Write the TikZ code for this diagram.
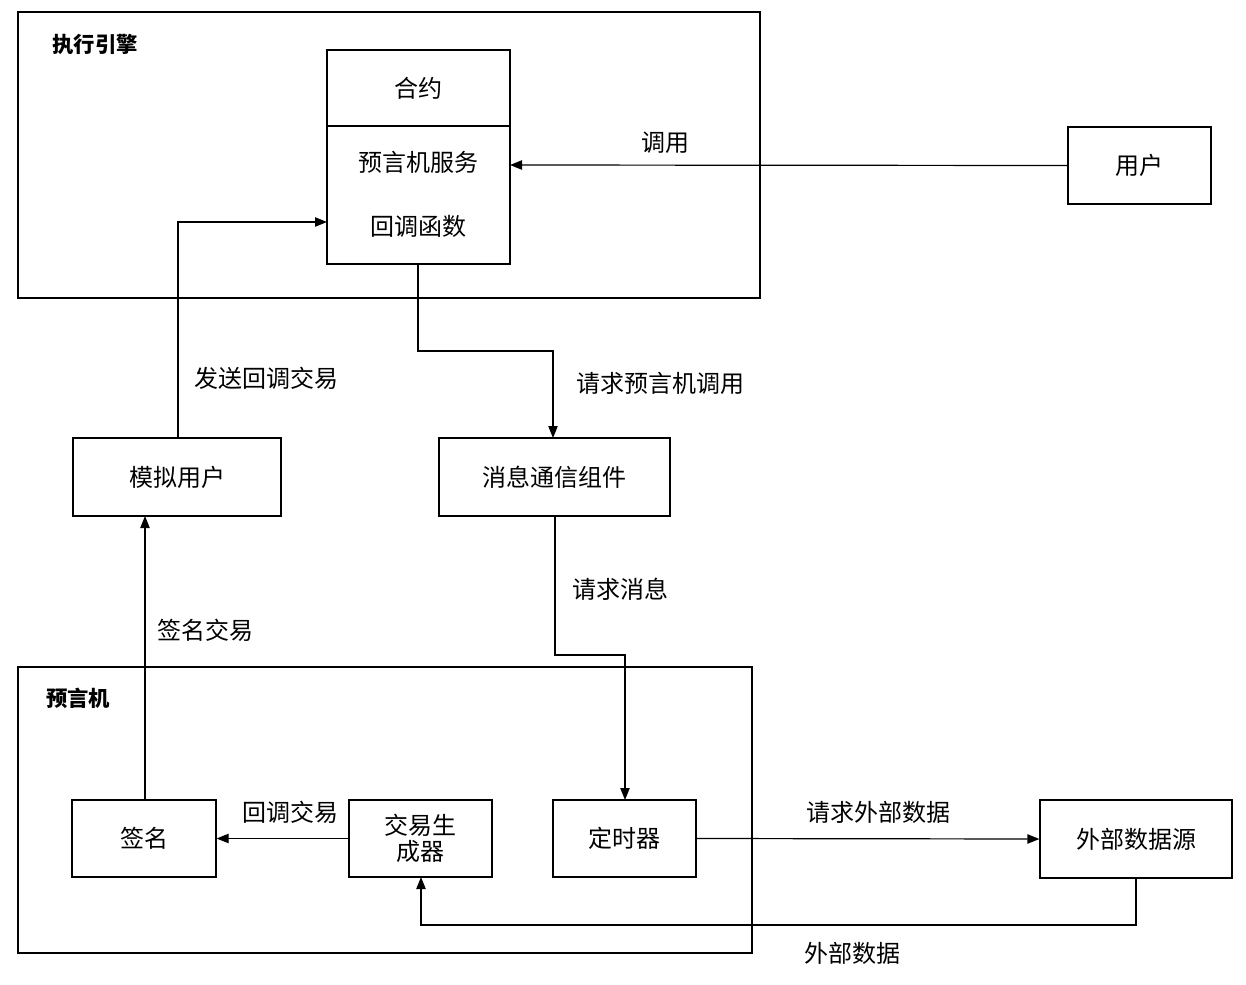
\documentclass[tikz,border=0pt]{standalone}
\usepackage{fontspec}
\setmainfont{Noto Sans CJK SC}
\usetikzlibrary{arrows.meta}
\begin{document}
\begin{tikzpicture}[x=0.75pt,y=-0.75pt,
  box/.style={draw,line width=0.9pt},
  lbl/.style={font=\fontsize{18}{20}\selectfont,inner sep=0pt},
  ttl/.style={font=\fontsize{16}{18}\selectfont\bfseries,inner sep=0pt},
  arr/.style={draw,line width=0.9pt,-{Triangle[length=9pt,width=7pt]}}]
\useasboundingbox (0,0) rectangle (1246,985);
\draw[box] (18,12) rectangle (760,298);
\node[ttl] (t1) at (95,44) {执行引擎};
\draw[box] (18,667) rectangle (752,953);
\node[ttl] (t2) at (78,698) {预言机};
\draw[box] (327,50) rectangle (510,264);
\draw[line width=0.9pt] (327,126) -- (510,126);
\coordinate (cT) at (418,50);
\node[lbl] (he) at (418,88) {合约};
\node[lbl] (svc) at (418,162) {预言机服务};
\node[lbl] (cb) at (418,226) {回调函数};
\coordinate (cBot) at (418,264);
\coordinate (cR) at (510,165);
\coordinate (cL) at (327,222);
\node[box,minimum width=143\pgflinewidth,lbl,draw,minimum width=107.25pt,minimum height=57.75pt,inner sep=0pt] (user) at (1139.5,165.5) {用户};
\node[box,lbl,minimum width=173.25pt,minimum height=58.5pt] (msg) at (554.5,477) {消息通信组件};
\node[box,lbl,minimum width=156pt,minimum height=58.5pt] (sim) at (177,477) {模拟用户};
\node[box,lbl,minimum width=108pt,minimum height=57.75pt] (sig) at (144,838.5) {签名};
\node[box,lbl,minimum width=107.25pt,minimum height=57.75pt,align=center] (gen) at (420.5,838.5) {交易生\\成器};
\node[box,lbl,minimum width=107.25pt,minimum height=57.75pt] (tim) at (624.5,838.5) {定时器};
\node[box,lbl,minimum width=144pt,minimum height=58.5pt] (ext) at (1136,839) {外部数据源};
\draw[arr] (user.west) -- (cR);
\node[lbl] at (665,143) {调用};
\draw[arr] (cBot) -- (418,351) -- (553,351) -- (553,438);
\node[lbl] at (660,383) {请求预言机调用};
\draw[arr] (178,438) -- (178,222) -- (cL);
\node[lbl] at (266,378) {发送回调交易};
\draw[arr] (555,516) -- (555,655) -- (625,655) -- (625,800);
\node[lbl] at (620,589) {请求消息};
\draw[arr] (145,800) -- (145,516);
\node[lbl] at (205,630) {签名交易};
\draw[arr] (gen.west) -- (sig.east);
\node[lbl] at (290,812) {回调交易};
\draw[arr] (tim.east) -- (ext.west);
\node[lbl] at (878,812) {请求外部数据};
\draw[arr] (ext.south) -- (1136,925) -- (421,925) -- (421,877);
\node[lbl] at (852,953) {外部数据};
\end{tikzpicture}
\end{document}
